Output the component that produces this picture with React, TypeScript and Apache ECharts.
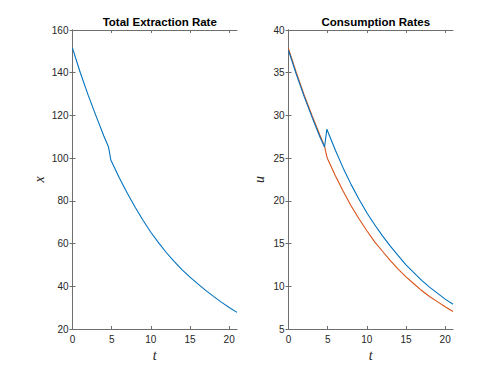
import React, { useEffect, useRef } from "react";
import * as echarts from "echarts";

const tValues = [0, 1, 2, 3, 4, 4.6, 4.9, 5, 6, 7, 8, 9, 10, 11, 12, 13, 14, 15, 16, 17, 18, 19, 20, 21];
const extraction = [151.5, 140, 129.5, 119.8, 110.4, 105.2, 99.0, 98.3, 90.6, 83.6, 77.0, 70.9, 65.3, 60.3, 55.7, 51.5, 47.7, 44.3, 41.1, 38.1, 35.3, 32.6, 30.1, 27.8];
const consumptionBlue = [37.6, 34.8, 32.2, 29.8, 27.5, 26.3, 28.4, 28.15, 25.9, 23.8, 21.9, 20.2, 18.6, 17.2, 15.9, 14.7, 13.6, 12.5, 11.6, 10.7, 9.9, 9.2, 8.5, 7.9];
const consumptionOrange = [37.8, 35.0, 32.4, 30.0, 27.7, 26.4, 25.15, 24.9, 22.9, 21.1, 19.4, 17.9, 16.5, 15.2, 14.1, 13.0, 12.0, 11.1, 10.3, 9.5, 8.8, 8.2, 7.6, 7.05];
const xTicks = [0, 5, 10, 15, 20];
const titles = ["Total Extraction Rate", "Consumption Rates"];
const yNames = ["x", "u"];
const xName = "t";

const pairs = (ys: number[]) => tValues.map((t, i) => [t, ys[i]]);

const AXIS_COLOR = "#6e6e6e";
const LABEL_COLOR = "#262626";
const SANS = "Liberation Sans, Arial, sans-serif";
const SERIF = "Liberation Serif, Times New Roman, serif";

export default function App() {
  const ref = useRef<HTMLDivElement>(null);
  useEffect(() => {
    if (!ref.current) return;
    const chart = echarts.init(ref.current, undefined, { renderer: "svg" });
    const grids = [
      { left: 72.5, top: 30, width: 164.5, height: 299 },
      { left: 288.5, top: 30, width: 164.5, height: 299 },
    ];
    const axisLine = { show: true, lineStyle: { color: AXIS_COLOR, width: 1 } };
    const xAxes: any[] = [];
    const yAxes: any[] = [];
    const yRanges = [
      { min: 20, max: 160, interval: 20 },
      { min: 5, max: 40, interval: 5 },
    ];
    grids.forEach((_, g) => {
      xAxes.push({
        type: "value",
        gridIndex: g,
        position: "bottom",
        min: 0,
        max: 21,
        axisLine,
        axisTick: { show: true, inside: true, length: 3, customValues: xTicks, lineStyle: { color: AXIS_COLOR } },
        axisLabel: { customValues: xTicks, color: LABEL_COLOR, fontSize: 10, fontFamily: SANS, margin: 5 },
        splitLine: { show: false },
        name: xName,
        nameLocation: "middle",
        nameGap: 16,
        nameTextStyle: { fontFamily: SERIF, fontStyle: "italic", fontSize: 14, color: LABEL_COLOR },
      });
      xAxes.push({
        type: "value",
        gridIndex: g,
        position: "top",
        min: 0,
        max: 21,
        axisLine,
        axisTick: { show: true, inside: true, length: 3, customValues: xTicks, lineStyle: { color: AXIS_COLOR } },
        axisLabel: { show: false },
        splitLine: { show: false },
      });
      yAxes.push({
        type: "value",
        gridIndex: g,
        position: "left",
        ...yRanges[g],
        axisLine,
        axisTick: { show: true, inside: true, length: 3, lineStyle: { color: AXIS_COLOR } },
        axisLabel: { color: LABEL_COLOR, fontSize: 10, fontFamily: SANS, margin: 4 },
        splitLine: { show: false },
        name: yNames[g],
        nameLocation: "middle",
        nameRotate: 90,
        nameGap: g === 0 ? 26 : 22,
        nameTextStyle: { fontFamily: SERIF, fontStyle: "italic", fontSize: 14, color: LABEL_COLOR },
      });
      yAxes.push({
        type: "value",
        gridIndex: g,
        position: "right",
        ...yRanges[g],
        axisLine,
        axisTick: { show: true, inside: true, length: 3, lineStyle: { color: AXIS_COLOR } },
        axisLabel: { show: false },
        splitLine: { show: false },
      });
    });
    const lineSeries = (data: number[], color: string, g: number) => ({
      type: "line",
      xAxisIndex: g * 2,
      yAxisIndex: g * 2,
      data: pairs(data),
      showSymbol: false,
      symbol: "none",
      smooth: false,
      lineStyle: { color, width: 1.1 },
      z: color === "#0072BD" ? 3 : 2,
    });
    chart.setOption({
      animation: false,
      backgroundColor: "#ffffff",
      title: titles.map((text, g) => ({
        text,
        left: grids[g].left + grids[g].width / 2,
        top: 11,
        textAlign: "center",
        textStyle: { fontSize: 11.5, fontWeight: "bold", color: "#000", fontFamily: SANS },
      })),
      grid: grids,
      xAxis: xAxes,
      yAxis: yAxes,
      series: [
        lineSeries(extraction, "#0072BD", 0),
        lineSeries(consumptionOrange, "#D95319", 1),
        lineSeries(consumptionBlue, "#0072BD", 1),
      ],
    });
    return () => chart.dispose();
  }, []);
  return (
    <div
      ref={ref}
      style={{ position: "absolute", left: 0, top: 0, width: 480, height: 374 }}
    />
  );
}
